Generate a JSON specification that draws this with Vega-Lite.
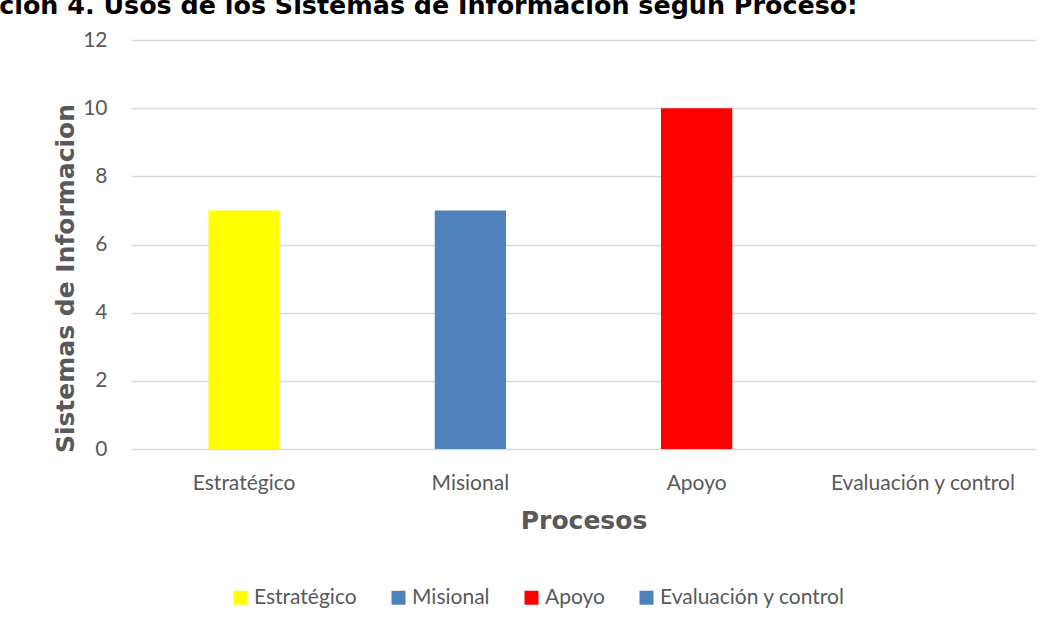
{
  "$schema": "https://vega.github.io/schema/vega-lite/v6.json",
  "autosize": {"type": "none"},
  "width": 905,
  "height": 409,
  "padding": {"left": 131, "top": 40, "right": 16, "bottom": 172},
  "background": "#ffffff",
  "title": {
    "text": "Ilustración 4. Usos de los Sistemas de Información según Proceso:",
    "anchor": "start",
    "frame": "group",
    "font": "DejaVu Sans",
    "fontWeight": "bold",
    "fontSize": 25.4,
    "color": "#000000",
    "baseline": "alphabetic",
    "dx": -225,
    "dy": 10,
    "offset": 0
  },
  "data": {
    "values": [
      {"proceso": "Estratégico", "valor": 7},
      {"proceso": "Misional", "valor": 7},
      {"proceso": "Apoyo", "valor": 10},
      {"proceso": "Evaluación y control", "valor": 0}
    ]
  },
  "mark": {"type": "bar"},
  "encoding": {
    "x": {
      "field": "proceso",
      "type": "nominal",
      "sort": ["Estratégico", "Misional", "Apoyo", "Evaluación y control"],
      "scale": {"paddingInner": 0.685, "paddingOuter": 0.3425},
      "axis": {
        "title": "Procesos",
        "labelAngle": 0,
        "domain": false,
        "ticks": false,
        "labelPadding": 23,
        "labelFont": "Lato",
        "labelFontSize": 21,
        "labelLimit": 0,
        "labelColor": "#595959",
        "titleFont": "DejaVu Sans",
        "titleFontWeight": "bold",
        "titleFontSize": 25,
        "titleColor": "#595959",
        "titleBaseline": "alphabetic",
        "titleY": 79
      }
    },
    "y": {
      "field": "valor",
      "type": "quantitative",
      "scale": {"domain": [0, 12], "nice": false},
      "axis": {
        "title": "Sistemas de Informacion",
        "values": [0, 2, 4, 6, 8, 10, 12],
        "domain": false,
        "ticks": false,
        "grid": true,
        "gridColor": "#D9D9D9",
        "gridWidth": 1.3,
        "labelPadding": 24,
        "labelFont": "Lato",
        "labelFontSize": 21,
        "labelColor": "#595959",
        "titleFont": "DejaVu Sans",
        "titleFontWeight": "bold",
        "titleFontSize": 25,
        "titleColor": "#595959",
        "titleBaseline": "alphabetic",
        "titleAngle": -90,
        "titleX": -58,
        "titleY": 238
      }
    },
    "color": {
      "field": "proceso",
      "type": "nominal",
      "sort": ["Estratégico", "Misional", "Apoyo", "Evaluación y control"],
      "scale": {
        "domain": ["Estratégico", "Misional", "Apoyo", "Evaluación y control"],
        "range": ["#FFFF00", "#4F81BD", "#FF0000", "#4F81BD"]
      },
      "legend": {
        "title": null,
        "orient": "none",
        "direction": "horizontal",
        "legendX": 99,
        "legendY": 547,
        "symbolType": "square",
        "symbolSize": 196,
        "symbolStrokeWidth": 0,
        "symbolOpacity": 1,
        "labelFont": "Lato",
        "labelFontSize": 21,
        "labelLimit": 0,
        "labelColor": "#595959",
        "labelOffset": 3,
        "columnPadding": 31
      }
    }
  },
  "config": {
    "view": {"stroke": null}
  }
}
